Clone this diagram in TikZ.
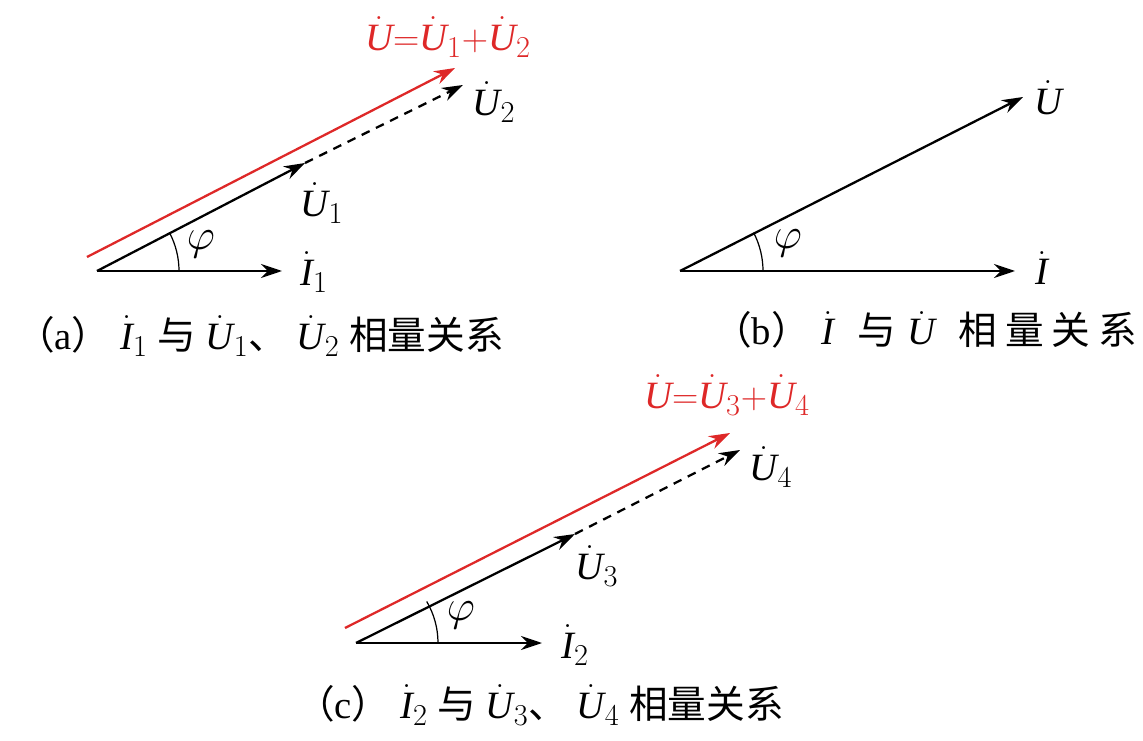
\documentclass[tikz,border=0pt]{standalone}
\usepackage{fontspec}
\setmainfont{Liberation Serif}
\usepackage[italic]{mathastext}
\newfontfamily\cjk{Noto Sans CJK SC}
\usepackage{xcolor}
\usetikzlibrary{arrows.meta}
\definecolor{sumred}{RGB}{222,40,40}

\begin{document}
\begin{tikzpicture}[
  vec/.style={line width=1.3pt,-{Stealth[length=0.42cm,width=0.28cm]}},
  sumvec/.style={vec,draw=sumred,color=sumred},
  dashvec/.style={vec,dashed,dash pattern=on 5pt off 4pt},
  lbl/.style={font=\fontsize{22}{26}\selectfont,inner sep=0pt},
  philbl/.style={font=\fontsize{26}{30}\selectfont,inner sep=0pt},
  sumlbl/.style={lbl,text=sumred,font=\fontsize{22}{26}\selectfont},
  captxt/.style={font=\fontsize{22}{26}\selectfont,inner sep=0pt}]
\useasboundingbox (0,0) rectangle (22.86,14.8);

% (a)
\coordinate (Oa) at (1.94,9.38);
\coordinate (I1) at (5.64,9.38);
\coordinate (U1) at (6.10,11.54);
\coordinate (U2) at (9.26,13.10);
\coordinate (Sa) at (1.74,9.66);
\coordinate (Ua) at (9.10,13.44);
\draw[sumvec] (Sa) -- (Ua);
\draw[vec] (Oa) -- (I1);
\draw[vec] (Oa) -- (U1);
\draw[dashvec] (U1) -- (U2);
\draw[line width=0.7pt] ([shift={(0:1.64)}]Oa) arc (0:27.4:1.64);
\node[philbl] (phia) at (4.02,9.92) {$\varphi$};
\node[lbl] (i1) at (6.28,9.36) {$\dot I_1$};
\node[lbl] (u1) at (6.44,10.74) {$\dot U_1$};
\node[lbl] (u2) at (9.88,12.76) {$\dot U_2$};
\node[sumlbl] (suma) at (8.96,14.06) {$\dot U{=}\dot U_1{+}\dot U_2$};
\node[captxt] (capa) at (5.20,8.08) {{\cjk （}a{\cjk ）} $\dot I_1$ {\cjk 与} $\dot U_1${\cjk 、} $\dot U_2$ {\cjk 相量关系}};

% (b)
\coordinate (Ob) at (13.60,9.38);
\coordinate (I) at (20.30,9.38);
\coordinate (U) at (20.46,12.86);
\draw[vec] (Ob) -- (I);
\draw[vec] (Ob) -- (U);
\draw[line width=0.7pt] ([shift={(0:1.66)}]Ob) arc (0:27.5:1.66);
\node[philbl] (phib) at (15.76,9.94) {$\varphi$};
\node[lbl] (i) at (20.84,9.44) {$\dot I$};
\node[lbl] (u) at (20.96,12.84) {$\dot U$};
\node[captxt] (capb) at (18.50,8.20) {{\cjk （}b{\cjk ）}\hspace{0.3em}$\dot I$\hspace{0.6em}{\cjk 与}\hspace{0.3em}$\dot U$\hspace{0.6em}{\cjk 相\hspace{0.2em}量\hspace{0.2em}关\hspace{0.2em}系}};

% (c)
\coordinate (Oc) at (7.12,1.94);
\coordinate (I2) at (10.84,1.94);
\coordinate (U3) at (11.50,4.12);
\coordinate (U4) at (14.80,5.80);
\coordinate (Sc) at (6.90,2.24);
\coordinate (Uc) at (14.60,6.14);
\draw[sumvec] (Sc) -- (Uc);
\draw[vec] (Oc) -- (I2);
\draw[vec] (Oc) -- (U3);
\draw[dashvec] (U3) -- (U4);
\draw[line width=0.7pt] ([shift={(0:1.64)}]Oc) arc (0:30.4:1.64);
\node[philbl] (phic) at (9.22,2.50) {$\varphi$};
\node[lbl] (i2) at (11.50,1.90) {$\dot I_2$};
\node[lbl] (u3) at (11.94,3.48) {$\dot U_3$};
\node[lbl] (u4) at (15.42,5.46) {$\dot U_4$};
\node[sumlbl] (sumc) at (14.54,6.90) {$\dot U{=}\dot U_3{+}\dot U_4$};
\node[captxt] (capc) at (10.80,0.70) {{\cjk （}c{\cjk ）} $\dot I_2$ {\cjk 与} $\dot U_3${\cjk 、} $\dot U_4$ {\cjk 相量关系}};
\end{tikzpicture}
\end{document}
